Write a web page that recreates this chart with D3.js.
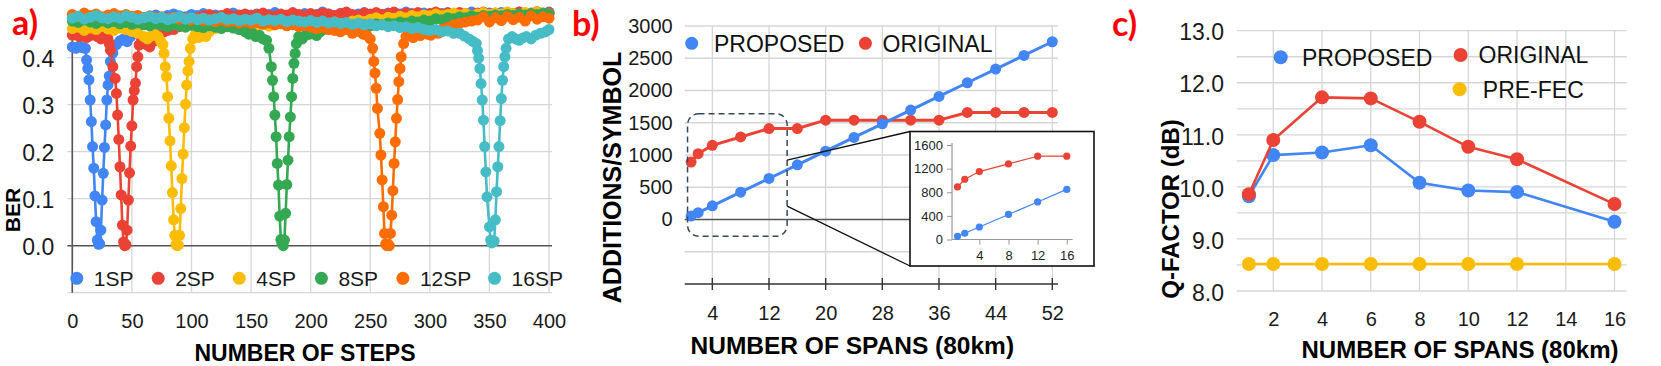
<!DOCTYPE html>
<html><head><meta charset="utf-8">
<script src="https://cdn.jsdelivr.net/npm/d3@7/dist/d3.min.js"></script>
<style>
body{margin:0;background:#fff;}
svg text{font-family:"Liberation Sans",Arial,sans-serif;}
</style></head>
<body><svg id="chart" width="1661" height="366"></svg>
<script>
// ================= DATA =================
// Panel a) BER vs number of steps
const seriesNamesA = ["1SP","2SP","4SP","8SP","12SP","16SP"];
const stepTicksA = [0,50,100,150,200,250,300,350,400];
const berTicksA = [0,0.1,0.2,0.3,0.4];

const steps1SP = [0,3,6,9,11,12,13,14,15,16,17,18,19,20,21,22,23,24,25,26,27,28,29,30,31,32,34,37,40,43,46,49,52,55,
60,65,70,75,80,85,90,95,100,105,110,115,120,125,130,135,140,145,150,155,160,165,170,175,180,185,190,195,200,205,210,215,220,225,230,235,240,245,250,255,260,265,270,275,280,285,290,295,300,305,310,315,320,325,330,335,340,345,350,355,360,365,370,375,380,385,390,395,400];
const ber1SP = [0.423,0.42,0.425,0.421,0.42,0.395,0.377,0.353,0.31,0.264,0.211,0.165,0.106,0.051,0.012,0.003,0.004,0.033,0.097,0.154,0.209,0.257,0.31,0.342,0.361,0.392,0.41,0.428,0.436,0.44,0.434,0.445,0.462,0.476,
0.482,0.488,0.491,0.486,0.49,0.493,0.489,0.487,0.492,0.49,0.494,0.489,0.491,0.488,0.492,0.495,0.49,0.487,0.491,0.493,0.489,0.492,0.496,0.49,0.488,0.493,0.491,0.494,0.49,0.492,0.497,0.493,0.49,0.494,0.492,0.489,0.493,0.496,0.491,0.494,0.492,0.495,0.49,0.493,0.497,0.494,0.491,0.495,0.493,0.49,0.494,0.496,0.492,0.495,0.493,0.497,0.494,0.491,0.495,0.493,0.496,0.494,0.492,0.497,0.495,0.493,0.496,0.494,0.497];

const steps2SP = [0,3,6,9,12,15,18,21,24,27,30,31,32,34,36,37,38,39,40,41,42,43,44,45,46,47,48,49,50,51,52,53,54,55,56,
58,60,62,65,68,71,74,77,80,85,90,95,100,
105,110,115,120,125,130,135,140,145,150,155,160,165,170,175,180,185,190,195,200,205,210,215,220,225,230,235,240,245,250,255,260,265,270,275,280,285,290,295,300,305,310,315,320,325,330,335,340,345,350,355,360,365,370,375,380,385,390,395,400];
const ber2SP = [0.448,0.452,0.445,0.45,0.443,0.447,0.452,0.445,0.44,0.448,0.44,0.43,0.416,0.381,0.356,0.324,0.278,0.226,0.168,0.108,0.044,0.008,0.0,0.002,0.033,0.097,0.155,0.212,0.255,0.31,0.33,0.346,0.381,0.402,0.427,
0.44,0.435,0.428,0.423,0.435,0.447,0.452,0.455,0.458,0.46,0.466,0.472,0.478,
0.485,0.489,0.492,0.487,0.49,0.494,0.488,0.491,0.493,0.489,0.492,0.495,0.49,0.488,0.493,0.491,0.496,0.492,0.489,0.494,0.491,0.495,0.493,0.49,0.494,0.497,0.492,0.49,0.495,0.493,0.496,0.492,0.494,0.497,0.491,0.495,0.493,0.496,0.49,0.494,0.497,0.493,0.495,0.492,0.496,0.494,0.491,0.495,0.497,0.493,0.495,0.492,0.496,0.494,0.497,0.493,0.495,0.498,0.494,0.496];

const steps4SP = [0,5,10,15,20,25,30,35,40,45,50,55,60,63,66,69,72,74,76,
77,78,79,80,81,82,83,84,85,86,87,88,89,90,91,92,93,94,95,96,97,98,99,
101,103,106,109,112,115,120,125,130,135,
140,145,150,155,160,165,170,175,180,185,190,195,200,205,210,215,220,225,230,235,240,245,250,255,260,265,270,275,280,285,290,295,300,305,310,315,320,325,330,335,340,345,350,355,360,365,370,375,380,385,390,395,400];
const ber4SP = [0.462,0.465,0.458,0.463,0.46,0.466,0.461,0.458,0.463,0.46,0.456,0.452,0.445,0.44,0.446,0.45,0.445,0.436,0.428,
0.409,0.381,0.36,0.317,0.271,0.223,0.17,0.113,0.055,0.022,0.003,0.0,0.001,0.022,0.079,0.143,0.195,0.251,0.301,0.342,0.372,0.392,0.42,
0.44,0.448,0.443,0.452,0.445,0.455,0.462,0.468,0.472,0.475,
0.47,0.468,0.472,0.469,0.471,0.467,0.47,0.473,0.469,0.471,0.474,0.47,0.472,0.475,0.471,0.473,0.476,0.472,0.474,0.478,0.48,0.477,0.482,0.485,0.481,0.486,0.484,0.488,0.485,0.49,0.487,0.491,0.489,0.493,0.49,0.492,0.495,0.491,0.494,0.49,0.493,0.496,0.492,0.495,0.493,0.497,0.494,0.492,0.496,0.494,0.497,0.495,0.493];

const steps8SP = [0,5,10,15,20,25,30,35,40,45,50,55,60,65,70,75,80,85,90,95,100,105,110,115,120,125,130,135,140,
145,148,151,154,157,160,163,165,
167,168,169,170,171,172,173,174,175,176,177,178,179,180,181,182,183,184,185,186,187,
188,190,193,196,199,202,205,208,211,215,
220,225,230,235,240,245,250,255,260,265,270,275,280,285,290,295,300,305,310,315,320,325,330,335,340,345,350,355,360,365,370,375,380,385,390,395,400];
const ber8SP = [0.478,0.475,0.48,0.476,0.473,0.478,0.474,0.477,0.472,0.475,0.471,0.474,0.47,0.468,0.472,0.469,0.466,0.47,0.467,0.465,0.469,0.466,0.464,0.468,0.465,0.462,0.466,0.463,0.46,
0.455,0.45,0.452,0.445,0.448,0.44,0.437,0.42,
0.381,0.352,0.317,0.278,0.232,0.175,0.129,0.063,0.013,0.004,0.0,0.012,0.069,0.13,0.182,0.232,0.274,0.317,0.356,0.388,0.409,
0.43,0.445,0.44,0.448,0.45,0.452,0.447,0.455,0.46,0.465,
0.463,0.467,0.465,0.469,0.466,0.47,0.468,0.472,0.47,0.474,0.472,0.476,0.474,0.478,0.476,0.48,0.478,0.483,0.481,0.485,0.483,0.487,0.485,0.489,0.486,0.49,0.488,0.491,0.489,0.492,0.49,0.493,0.491,0.494,0.492,0.495,0.493];

const steps12SP = [0,5,10,15,20,25,30,35,40,45,50,55,60,65,70,75,80,85,90,95,100,105,110,115,120,125,130,135,140,145,150,155,160,165,170,175,180,185,190,195,200,205,210,215,
220,225,230,235,240,244,247,250,252,
253,254,255,256,258,259,260,261,262,263,264,265,266,267,268,269,270,271,272,273,274,275,276,
278,280,283,286,289,292,295,298,301,304,307,310,315,320,325,330,335,
340,345,350,355,360,365,370,375,380,385,390,395,400];
const ber12SP = [0.492,0.488,0.495,0.49,0.493,0.487,0.491,0.494,0.489,0.492,0.488,0.49,0.486,0.489,0.485,0.487,0.483,0.486,0.482,0.484,0.48,0.483,0.479,0.481,0.477,0.48,0.476,0.478,0.474,0.477,0.473,0.475,0.471,0.474,0.47,0.472,0.468,0.47,0.466,0.468,0.465,0.462,0.464,0.46,
0.458,0.455,0.46,0.452,0.456,0.45,0.448,0.44,0.42,
0.392,0.367,0.335,0.292,0.239,0.193,0.14,0.083,0.026,0.004,0.0,0.003,0.0,0.026,0.065,0.117,0.175,0.221,0.271,0.311,0.349,0.377,0.402,
0.43,0.445,0.45,0.443,0.452,0.447,0.455,0.45,0.448,0.455,0.452,0.46,0.465,0.47,0.473,0.476,0.478,
0.48,0.487,0.476,0.485,0.479,0.488,0.481,0.486,0.478,0.489,0.482,0.487,0.484];

const steps16SP = [0,5,10,15,20,25,30,35,40,45,50,55,60,65,70,75,80,85,90,95,100,105,110,115,120,125,130,135,140,145,150,155,160,165,170,175,180,185,190,195,200,205,210,215,220,225,230,235,240,245,250,255,260,265,270,275,280,285,290,295,300,
305,310,315,320,325,329,333,336,339,340,
341,342,343,344,345,346,347,348,350,351,352,353,354,355,356,357,358,359,360,361,362,363,364,
366,369,372,375,378,381,385,389,393,397,400];
const ber16SP = [0.484,0.488,0.482,0.486,0.49,0.485,0.483,0.487,0.484,0.489,0.486,0.482,0.485,0.488,0.483,0.486,0.481,0.484,0.487,0.482,0.485,0.481,0.484,0.48,0.483,0.486,0.481,0.483,0.479,0.482,0.48,0.484,0.478,0.481,0.479,0.482,0.477,0.48,0.478,0.476,0.479,0.475,0.478,0.474,0.476,0.473,0.475,0.471,0.474,0.47,0.472,0.468,0.47,0.466,0.468,0.464,0.466,0.462,0.464,0.46,0.458,
0.46,0.455,0.457,0.452,0.452,0.446,0.44,0.435,0.43,0.415,
0.399,0.377,0.345,0.31,0.267,0.211,0.157,0.104,0.04,0.012,0.006,0.008,0.01,0.055,0.115,0.168,0.211,0.266,0.313,0.352,0.381,0.402,0.42,
0.44,0.445,0.44,0.437,0.442,0.445,0.44,0.448,0.452,0.455,0.46];

// Panel b) additions per symbol vs number of spans
const spansB = [1,2,4,8,12,16,20,24,28,32,36,40,44,48,52];
const proposedB = [53,106,212,424,636,848,1060,1272,1484,1696,1908,2120,2332,2544,2756];
const originalB = [890,1020,1150,1280,1410,1410,1540,1540,1540,1540,1540,1660,1660,1660,1660];
const spanTicksB = [4,12,20,28,36,44,52];
const addTicksB = [0,500,1000,1500,2000,2500,3000];
const insetSpanTicks = [4,8,12,16];
const insetAddTicks = [0,400,800,1200,1600];

// Panel c) Q-factor vs number of spans
const spansC = [1,2,4,6,8,10,12,16];
const proposedC = [9.82,10.61,10.66,10.80,10.08,9.93,9.90,9.33];
const originalC = [9.86,10.90,11.72,11.70,11.25,10.77,10.53,9.67];
const preFecC = [8.52,8.52,8.52,8.52,8.52,8.52,8.52,8.52];
const spanTicksC = [2,4,6,8,10,12,14,16];
const qTicksC = [8,9,10,11,12,13];
const qGridC = [8,8.5,9,9.5,10,10.5,11,11.5,12,12.5,13];

// ================= STYLE =================
const BLUE="#4285F4", RED="#EA4335", YELLOW="#FBBC04", GREEN="#34A853", ORANGE="#FF6D01", TEAL="#46BDC6";
const colorsA=[BLUE,RED,YELLOW,GREEN,ORANGE,TEAL];
const GRID="#d6d6d6", AXIS="#555";

const svg=d3.select("#chart");

function series(g,xs,ys,sx,sy,color,r,lw){
  const pts=d3.zip(xs,ys);
  g.append("path").datum(pts).attr("fill","none").attr("stroke",color)
    .attr("stroke-width",lw).attr("stroke-linejoin","round")
    .attr("d",d3.line().x(d=>sx(d[0])).y(d=>sy(d[1])));
  g.append("g").selectAll("circle").data(pts).join("circle")
    .attr("cx",d=>sx(d[0])).attr("cy",d=>sy(d[1])).attr("r",r).attr("fill",color);
}
function hline(g,x1,x2,y,c,w){g.append("line").attr("x1",x1).attr("x2",x2).attr("y1",y).attr("y2",y).attr("stroke",c).attr("stroke-width",w);}
function vline(g,x,y1,y2,c,w){g.append("line").attr("x1",x).attr("x2",x).attr("y1",y1).attr("y2",y2).attr("stroke",c).attr("stroke-width",w);}
function styleAxis(ax,size){ax.select(".domain").remove();ax.selectAll("text").attr("font-size",size).attr("fill","#1a1a1a").style("font-family",'"Liberation Sans",Arial,sans-serif');}
function panelLabel(txt,x,y){svg.append("text").attr("x",x).attr("y",y).text(txt).attr("fill","#ff0000")
  .attr("font-size",34).attr("font-weight",700).style("font-family","Lato, 'Liberation Sans', sans-serif");}

// ================= PANEL A =================
{
  const g=svg.append("g");
  const x=d3.scaleLinear().domain([0,400]).range([72.3,549]);
  const y=d3.scaleLinear().domain([-0.1,0.5]).range([292.7,10.7]);
  stepTicksA.forEach(t=>vline(g,x(t),y(0.5),y(-0.1),GRID,1.3));
  [0.1,0.2,0.3,0.4,-0.1].forEach(t=>hline(g,x(0)-5,x(400)+3,y(t),GRID,1.3));
  hline(g,x(0)-5,x(400)+3,y(0),AXIS,1.6);
  vline(g,x(0),y(0.5),y(-0.1),AXIS,1.6);
  const ya=g.append("g").attr("transform",`translate(${x(0)},0)`)
    .call(d3.axisLeft(y).tickValues(berTicksA).tickFormat(d3.format(".1f")).tickSize(0).tickPadding(18));
  styleAxis(ya,23); ya.selectAll("text").attr("dy","0.4em");
  const xa=g.append("g").attr("transform",`translate(0,${y(-0.1)})`)
    .call(d3.axisBottom(x).tickValues(stepTicksA).tickSize(0).tickPadding(21));
  styleAxis(xa,20);
  const stepsA=[steps1SP,steps2SP,steps4SP,steps8SP,steps12SP,steps16SP];
  const bersA=[ber1SP,ber2SP,ber4SP,ber8SP,ber12SP,ber16SP];
  stepsA.forEach((s,i)=>series(g,s,bersA[i],x,y,colorsA[i],5.5,2.6));
  // legend
  const lx=[76.8,158.2,239.3,321.4,402.9,494.6];
  seriesNamesA.forEach((n,i)=>{
    g.append("circle").attr("cx",lx[i]).attr("cy",278.3).attr("r",6.5).attr("fill",colorsA[i]);
    g.append("text").attr("x",lx[i]+17).attr("y",285.8).text(n).attr("font-size",21).attr("fill","#1a1a1a");
  });
  svg.append("text").attr("x",305).attr("y",361).attr("text-anchor","middle").attr("font-size",23)
    .attr("font-weight",700).text("NUMBER OF STEPS");
  svg.append("text").attr("transform","translate(20,210) rotate(-90)").attr("text-anchor","middle")
    .attr("font-size",21).attr("font-weight",700).text("BER");
  panelLabel("a)",12,35);
}

// ================= PANEL B =================
{
  const g=svg.append("g");
  const x=d3.scaleLinear().domain([0,53]).range([684,1059.4]);
  const y=d3.scaleLinear().domain([-1000,3000]).range([284,26]);
  spanTicksB.forEach(t=>vline(g,x(t),y(3000),y(-1000),GRID,1.3));
  [500,1000,1500,2000,2500,3000,-500].forEach(t=>hline(g,x(0.1),x(52.8),y(t),GRID,1.3));
  hline(g,x(0.1),x(52.8),y(0),AXIS,1.6);
  hline(g,x(0.1),x(52.8),y(-1000),"#333",1.6);
  spanTicksB.forEach(t=>vline(g,x(t),y(-1000)-6,y(-1000)+6,"#333",1.4));
  const ya=g.append("g").attr("transform",`translate(${x(0.1)},0)`)
    .call(d3.axisLeft(y).tickValues(addTicksB).tickFormat(d3.format("d")).tickSize(0).tickPadding(12));
  styleAxis(ya,20);
  const xa=g.append("g").attr("transform",`translate(0,${y(-1000)})`)
    .call(d3.axisBottom(x).tickValues(spanTicksB).tickSize(0).tickPadding(22));
  styleAxis(xa,20);
  series(g,spansB,originalB,x,y,RED,5.5,3);
  series(g,spansB,proposedB,x,y,BLUE,5.5,3);
  // dashed zoom region
  g.append("rect").attr("x",x(0.5)).attr("y",y(1640)).attr("width",x(14.56)-x(0.5)).attr("height",y(-260)-y(1640))
    .attr("rx",11).attr("fill","none").attr("stroke","#34495e").attr("stroke-width",1.5).attr("stroke-dasharray","6,4");
  // inset box
  const bx=910,by=131.5,bw=184,bh=134.5;
  g.append("line").attr("x1",x(14.56)).attr("y1",y(920)).attr("x2",bx).attr("y2",by).attr("stroke","#111").attr("stroke-width",1.3);
  g.append("line").attr("x1",x(14.56)).attr("y1",y(208)).attr("x2",bx).attr("y2",by+bh).attr("stroke","#111").attr("stroke-width",1.3);
  g.append("rect").attr("x",bx).attr("y",by).attr("width",bw).attr("height",bh).attr("fill","#fff").attr("stroke","#111").attr("stroke-width",1.6);
  const xi=d3.scaleLinear().domain([0,16.8]).range([950.2,1072.6]);
  const yi=d3.scaleLinear().domain([0,1600]).range([239.5,145]);
  vline(g,xi(0.25),yi(1600)-2,yi(0),"#999",1.2);
  hline(g,xi(0.25),xi(16.8),yi(0),"#999",1.2);
  const iya=g.append("g").attr("transform",`translate(${xi(0.25)},0)`)
    .call(d3.axisLeft(yi).tickValues(insetAddTicks).tickFormat(d3.format("d")).tickSize(5).tickPadding(4));
  iya.select(".domain").remove(); iya.selectAll("line").attr("stroke","#999");
  iya.selectAll("text").attr("font-size",13).attr("fill","#222");
  const ixa=g.append("g").attr("transform",`translate(0,${yi(0)})`)
    .call(d3.axisBottom(xi).tickValues(insetSpanTicks).tickSize(5).tickPadding(6));
  ixa.select(".domain").remove(); ixa.selectAll("line").attr("stroke","#999");
  ixa.selectAll("text").attr("font-size",13).attr("fill","#222");
  const nIn=spansB.filter(s=>s<=16).length;
  series(g,spansB.slice(0,nIn),originalB.slice(0,nIn),xi,yi,RED,3.6,1.2);
  series(g,spansB.slice(0,nIn),proposedB.slice(0,nIn),xi,yi,BLUE,3.6,1.2);
  // legend
  g.append("circle").attr("cx",691.7).attr("cy",43.3).attr("r",6.5).attr("fill",BLUE);
  g.append("text").attr("x",714).attr("y",51.5).attr("font-size",23).text("PROPOSED").attr("fill","#111");
  g.append("circle").attr("cx",865.4).attr("cy",43.3).attr("r",6.5).attr("fill",RED);
  g.append("text").attr("x",882.6).attr("y",51.5).attr("font-size",23).text("ORIGINAL").attr("fill","#111");
  svg.append("text").attr("x",852.3).attr("y",354).attr("text-anchor","middle").attr("font-size",24.5)
    .attr("font-weight",700).text("NUMBER OF SPANS (80km)");
  svg.append("text").attr("transform","translate(620.7,177.5) rotate(-90)").attr("text-anchor","middle")
    .attr("font-size",25).attr("font-weight",700).text("ADDITIONS/SYMBOL");
  panelLabel("b)",572,36);
}

// ================= PANEL C =================
{
  const g=svg.append("g");
  const x=d3.scaleLinear().domain([0.5,16.5]).range([1236.7,1626.7]);
  const y=d3.scaleLinear().domain([8,13]).range([291,30.7]);
  spanTicksC.forEach(t=>vline(g,x(t),y(13),y(8),GRID,1.3));
  qGridC.forEach(t=>hline(g,x(0.5),x(16.5),y(t),GRID,1.3));
  const ya=g.append("g").attr("transform",`translate(${x(0.5)},0)`)
    .call(d3.axisLeft(y).tickValues(qTicksC).tickFormat(d3.format(".1f")).tickSize(0).tickPadding(12.7));
  styleAxis(ya,23); ya.selectAll("text").attr("dy","0.4em");
  const xa=g.append("g").attr("transform",`translate(0,${y(8)})`)
    .call(d3.axisBottom(x).tickValues(spanTicksC).tickSize(0).tickPadding(21));
  styleAxis(xa,20);
  series(g,spansC,preFecC,x,y,YELLOW,7,2.6);
  series(g,spansC,proposedC,x,y,BLUE,7,2.6);
  series(g,spansC,originalC,x,y,RED,7,2.6);
  g.append("circle").attr("cx",1280.7).attr("cy",57.3).attr("r",7).attr("fill",BLUE);
  g.append("text").attr("x",1302).attr("y",65.6).attr("font-size",23).text("PROPOSED").attr("fill","#111");
  g.append("circle").attr("cx",1460.6).attr("cy",55).attr("r",7).attr("fill",RED);
  g.append("text").attr("x",1478.5).attr("y",63.3).attr("font-size",23).text("ORIGINAL").attr("fill","#111");
  g.append("circle").attr("cx",1459.6).attr("cy",89.3).attr("r",7).attr("fill",YELLOW);
  g.append("text").attr("x",1482.8).attr("y",97.6).attr("font-size",23).text("PRE-FEC").attr("fill","#111");
  svg.append("text").attr("x",1460).attr("y",358).attr("text-anchor","middle").attr("font-size",24)
    .attr("font-weight",700).text("NUMBER OF SPANS (80km)");
  svg.append("text").attr("transform","translate(1178.6,209) rotate(-90)").attr("text-anchor","middle")
    .attr("font-size",24).attr("font-weight",700).text("Q-FACTOR (dB)");
  panelLabel("c)",1112,36);
}
</script></body></html>
